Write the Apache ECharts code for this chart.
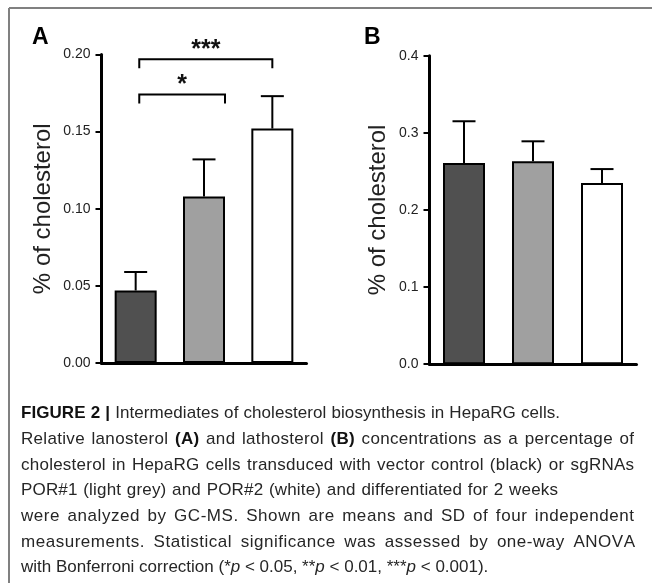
<!DOCTYPE html>
<html>
<head>
<meta charset="utf-8">
<script src="https://cdn.jsdelivr.net/npm/echarts@6/dist/echarts.min.js"></script>
<style>
  html, body { margin: 0; padding: 0; background: #fff; }
  #main { width: 652px; height: 583px; }
</style>
</head>
<body>
<div id="main"></div>
<script>
// groups: vector control (black), POR#1 (light grey), POR#2 (white)
const groups = ['vector control', 'POR#1', 'POR#2']
const barColors = ['#505050', '#a0a0a0', '#ffffff']

// A: lanosterol, % of cholesterol
const lanosterolMean = [0.047, 0.108, 0.152]
const lanosterolSD = [0.012, 0.024, 0.021]
// B: lathosterol, % of cholesterol
const lathosterolMean = [0.261, 0.263, 0.235]
const lathosterolSD = [0.054, 0.026, 0.018]

// significance brackets on panel A
const bracketFrom = [0, 0]
const bracketTo = [2, 1]
const bracketLevel = [0.197, 0.174]
const bracketLabel = ['***', '*']

// caption, one entry per printed line; n = normal, b = bold, i = italic
const captionLines = [
    [['b', 'FIGURE 2 |'], ['n', ' Intermediates of cholesterol biosynthesis in HepaRG cells.']],
    [['n', 'Relative lanosterol '], ['b', '(A)'], ['n', ' and lathosterol '], ['b', '(B)'], ['n', ' concentrations as a percentage of']],
    [['n', 'cholesterol in HepaRG cells transduced with vector control (black) or sgRNAs']],
    [['n', 'POR#1 (light grey) and POR#2 (white) and differentiated for 2 weeks']],
    [['n', 'were analyzed by GC-MS. Shown are means and SD of four independent']],
    [['n', 'measurements. Statistical significance was assessed by one-way ANOVA']],
    [['n', 'with Bonferroni correction (*'], ['i', 'p'], ['n', ' < 0.05, **'], ['i', 'p'], ['n', ' < 0.01, ***'], ['i', 'p'], ['n', ' < 0.001).']]
]
// right end of each printed line in the figure (px)
const captionLineEnd = [560, 634, 634, 558, 634, 635, 488]

const FONT = '"Liberation Sans", Arial, Helvetica, sans-serif'
const CAP_SIZE = 17

function barData(means) {
    return means.map(function (v, i) {
        return {
            value: v,
            itemStyle: { color: barColors[i], borderColor: '#000', borderWidth: 2 }
        }
    })
}

function errorData(means, sds) {
    return means.map(function (v, i) { return [i, v, sds[i]] })
}

function renderError(params, api) {
    const base = api.coord([api.value(0), api.value(1)])
    const top = api.coord([api.value(0), api.value(1) + api.value(2)])
    const st = { stroke: '#000', lineWidth: 2 }
    return {
        type: 'group',
        children: [
            { type: 'line', shape: { x1: base[0], y1: base[1], x2: top[0], y2: top[1] }, style: st },
            { type: 'line', shape: { x1: base[0] - 11.5, y1: top[1], x2: base[0] + 11.5, y2: top[1] }, style: st }
        ]
    }
}

// small pixel nudges for the bracket ends (left end, right end)
const bracketNudge = [[3.6, 0], [3.6, 21]]

function renderBracket(params, api) {
    const i = params.dataIndex
    const a = api.coord([api.value(0), api.value(2)])
    const b = api.coord([api.value(1), api.value(2)])
    const x1 = a[0] + bracketNudge[i][0]
    const x2 = b[0] + bracketNudge[i][1]
    const y = a[1]
    const drop = 9
    return {
        type: 'group',
        children: [
            {
                type: 'polyline',
                shape: { points: [[x1, y + drop], [x1, y], [x2, y], [x2, y + drop]] },
                style: { stroke: '#000', lineWidth: 2, fill: null }
            },
            {
                type: 'text',
                style: {
                    x: (x1 + x2) / 2, y: y - 9, text: bracketLabel[i],
                    font: 'bold 25px ' + FONT, fill: '#111', align: 'center', verticalAlign: 'middle'
                }
            }
        ]
    }
}

function makeXAxis(idx) {
    return {
        type: 'category',
        gridIndex: idx,
        data: groups,
        z: 5,
        axisLine: { lineStyle: { color: '#000', width: 3 } },
        axisTick: { show: false },
        axisLabel: { show: false },
        splitLine: { show: false }
    }
}

function makeYAxis(idx, max, interval, digits, gap) {
    return {
        type: 'value',
        gridIndex: idx,
        min: 0,
        max: max,
        interval: interval,
        z: 5,
        name: '% of cholesterol',
        nameLocation: 'middle',
        nameRotate: 90,
        nameGap: gap,
        nameTextStyle: { fontFamily: FONT, fontSize: 24, color: '#222' },
        axisLine: { show: true, lineStyle: { color: '#000', width: 3 } },
        axisTick: { show: true, length: 6, lineStyle: { color: '#000', width: 2 } },
        axisLabel: {
            margin: 11, fontFamily: FONT, fontSize: 14, color: '#222',
            formatter: function (v) { return v.toFixed(digits) }
        },
        splitLine: { show: false }
    }
}

function fontFor(s) {
    return (s === 'b' ? 'bold ' : s === 'i' ? 'italic ' : '') + CAP_SIZE + 'px ' + FONT
}
function colorFor(s) { return s === 'b' ? '#111' : '#262626' }

const measureCtx = document.createElement('canvas').getContext('2d')
function textWidth(t, s) {
    measureCtx.font = fontFor(s)
    return measureCtx.measureText(t).width
}

// caption drawn glyph by glyph: each line is stretched to its printed length,
// the extra room spread over letter spacing and word spaces
const capLeft = 21, capTop = 413.5, capStep = 25.7
const captionGraphics = []
captionLines.forEach(function (parts, k) {
    const y = capTop + k * capStep
    const chars = []
    parts.forEach(function (p) {
        p[1].split('').forEach(function (c) { chars.push([p[0], c, textWidth(c, p[0])]) })
    })
    const natural = chars.reduce(function (s, c) { return s + c[2] }, 0)
    const nSpaces = chars.filter(function (c) { return c[1] === ' ' }).length
    const extra = Math.max(0, captionLineEnd[k] - capLeft - natural)
    const ls = extra * 0.6 / (chars.length - 1)
    const sp = nSpaces ? extra * 0.4 / nSpaces : 0
    let x = capLeft
    chars.forEach(function (c) {
        if (c[1] !== ' ') {
            captionGraphics.push({
                type: 'text',
                x: x, y: y, silent: true,
                style: { text: c[1], font: fontFor(c[0]), fill: colorFor(c[0]), verticalAlign: 'middle' }
            })
        }
        x += c[2] + ls + (c[1] === ' ' ? sp : 0)
    })
})

const chart = echarts.init(document.getElementById('main'), null, { renderer: 'canvas' })

const option = {
    animation: false,
    backgroundColor: '#fff',
    grid: [
        { left: 101.5, top: 54.5, width: 205, height: 308.5 },
        { left: 429.5, top: 55.7, width: 207, height: 308.5 }
    ],
    xAxis: [makeXAxis(0), makeXAxis(1)],
    yAxis: [makeYAxis(0, 0.2, 0.05, 2, 46.5), makeYAxis(1, 0.4, 0.1, 1, 39.5)],
    series: [
        { type: 'bar', xAxisIndex: 0, yAxisIndex: 0, barWidth: 42, data: barData(lanosterolMean) },
        { type: 'custom', xAxisIndex: 0, yAxisIndex: 0, z: 4, renderItem: renderError, encode: { x: 0, y: 1 }, data: errorData(lanosterolMean, lanosterolSD) },
        {
            type: 'custom', xAxisIndex: 0, yAxisIndex: 0, z: 4, renderItem: renderBracket, encode: { x: [0, 1], y: 2 },
            data: bracketFrom.map(function (f, i) { return [f, bracketTo[i], bracketLevel[i]] })
        },
        { type: 'bar', xAxisIndex: 1, yAxisIndex: 1, barWidth: 42, data: barData(lathosterolMean) },
        { type: 'custom', xAxisIndex: 1, yAxisIndex: 1, z: 4, renderItem: renderError, encode: { x: 0, y: 1 }, data: errorData(lathosterolMean, lathosterolSD) }
    ],
    graphic: [
        // frame (top and left edges)
        { type: 'line', shape: { x1: 9, y1: 8, x2: 652, y2: 8 }, style: { stroke: '#808080', lineWidth: 2 } },
        { type: 'line', shape: { x1: 9, y1: 8, x2: 9, y2: 583 }, style: { stroke: '#808080', lineWidth: 2 } },
        { type: 'text', left: 32, top: 26, style: { text: 'A', font: 'bold 23px ' + FONT, fill: '#000' } },
        { type: 'text', left: 364, top: 26, style: { text: 'B', font: 'bold 23px ' + FONT, fill: '#000' } }
    ].concat(captionGraphics)
}

chart.setOption(option)
</script>
</body>
</html>
